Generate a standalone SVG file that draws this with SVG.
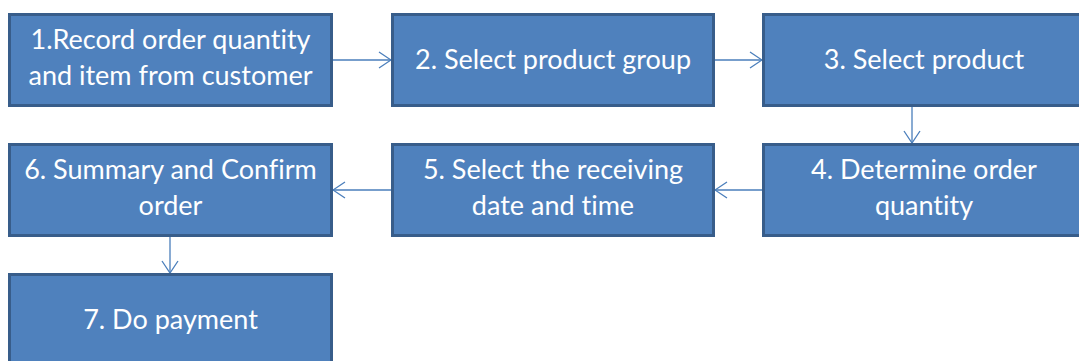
<svg xmlns="http://www.w3.org/2000/svg" width="1079" height="361" viewBox="0 0 1079 361">
<style>
.box{fill:#4f81bd;stroke:#385d8a;stroke-width:3}
.t{fill:#ffffff;font-family:Lato,"Open Sans",sans-serif;font-size:27px;text-anchor:middle;font-variant-ligatures:none}
.c{stroke:#4a7ebb;stroke-width:1.3;fill:none}
</style>
<defs>
<marker id="ah" viewBox="0 0 14 18" refX="13" refY="9" markerWidth="14" markerHeight="18" markerUnits="userSpaceOnUse" orient="auto">
<path d="M1,1 L13,9 L1,17" fill="none" stroke="#4a7ebb" stroke-width="1.3"/>
</marker>
</defs>
<rect width="1079" height="361" fill="#ffffff"/>
<g id="connectors">
<line class="c" x1="333" y1="60" x2="391" y2="60" marker-end="url(#ah)"/>
<line class="c" x1="715" y1="60" x2="762" y2="60" marker-end="url(#ah)"/>
<line class="c" x1="912" y1="107" x2="912" y2="143" marker-end="url(#ah)"/>
<line class="c" x1="762" y1="190" x2="715" y2="190" marker-end="url(#ah)"/>
<line class="c" x1="392" y1="190" x2="333" y2="190" marker-end="url(#ah)"/>
<line class="c" x1="170" y1="237" x2="170" y2="273" marker-end="url(#ah)"/>
</g>
<g id="n1"><rect class="box" x="9.5" y="14.5" width="322" height="91"/><text class="t" x="170.5" y="49">1.Record order quantity</text><text class="t" x="170.5" y="85">and item from customer</text></g>
<g id="n2"><rect class="box" x="392.5" y="14.5" width="321" height="91"/><text class="t" x="553" y="69">2. Select product group</text></g>
<g id="n3"><rect class="box" x="763.5" y="14.5" width="322" height="91"/><text class="t" x="924" y="69">3. Select product</text></g>
<g id="n4"><rect class="box" x="763.5" y="144.5" width="322" height="91"/><text class="t" x="924" y="179">4. Determine order</text><text class="t" x="924" y="215">quantity</text></g>
<g id="n5"><rect class="box" x="392.5" y="144.5" width="321" height="91"/><text class="t" x="553" y="179">5. Select the receiving</text><text class="t" x="553" y="215">date and time</text></g>
<g id="n6"><rect class="box" x="9.5" y="144.5" width="322" height="91"/><text class="t" x="170.5" y="179">6. Summary and Confirm</text><text class="t" x="170.5" y="215">order</text></g>
<g id="n7"><rect class="box" x="9.5" y="274.5" width="322" height="91"/><text class="t" x="170.5" y="329">7. Do payment</text></g>
</svg>
